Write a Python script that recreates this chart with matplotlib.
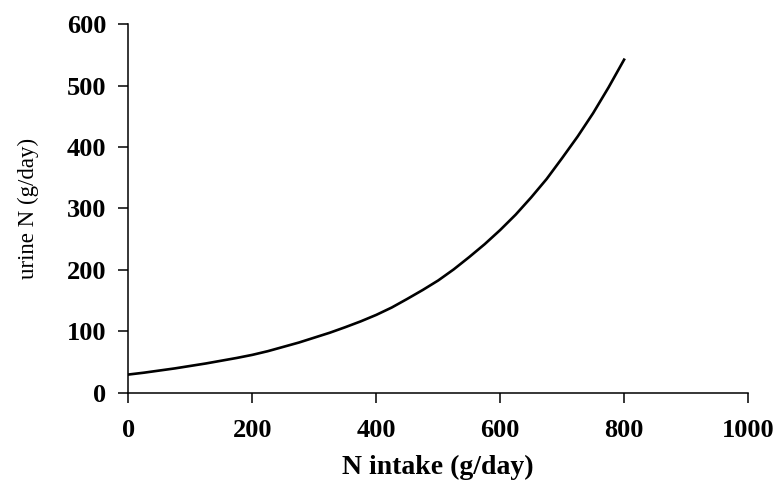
import matplotlib
matplotlib.use('Agg')
import matplotlib.pyplot as plt

# N intake (g/day) vs urine N (g/day)
n_intake = [0, 25, 50, 75, 100, 125, 150, 175, 200, 225, 250, 275, 300, 325, 350, 375, 400,
            425, 450, 475, 500, 525, 550, 575, 600, 625, 650, 675, 700, 725, 750, 775, 800]
urine_n = [30, 33, 36.5, 40, 44, 48, 52.5, 57, 62, 68, 75, 82, 90, 98, 107, 116.5, 127,
           139, 153, 167.5, 183, 201, 221, 242, 265, 290, 318, 348, 382, 417, 455, 497, 542]

x_ticks = [0, 200, 400, 600, 800, 1000]
y_ticks = [0, 100, 200, 300, 400, 500, 600]

plt.rcParams['font.family'] = ['Liberation Serif', 'DejaVu Serif']

fig = plt.figure(figsize=(7.82, 4.86), dpi=100)
ax = fig.add_axes([0.1643, 0.1914, 0.7922, 0.7592])

ax.plot(n_intake, urine_n, color='black', lw=1.9)

ax.set_xlim(0, 1000)
ax.set_ylim(0, 600)
ax.set_xticks(x_ticks)
ax.set_yticks(y_ticks)

for s in ['top', 'right']:
    ax.spines[s].set_visible(False)
for s in ['left', 'bottom']:
    ax.spines[s].set_linewidth(1.1)

ax.tick_params(axis='both', direction='out', length=7, width=1.1, labelsize=19)
ax.tick_params(axis='x', pad=12)
ax.tick_params(axis='y', pad=9)
for lab in ax.get_xticklabels() + ax.get_yticklabels():
    lab.set_fontweight('bold')

ax.set_xlabel('N intake (g/day)', fontsize=20, fontweight='bold', labelpad=9)
ax.set_ylabel('urine N (g/day)', fontsize=16.5, labelpad=20)

fig.savefig('out.png', dpi=100)
